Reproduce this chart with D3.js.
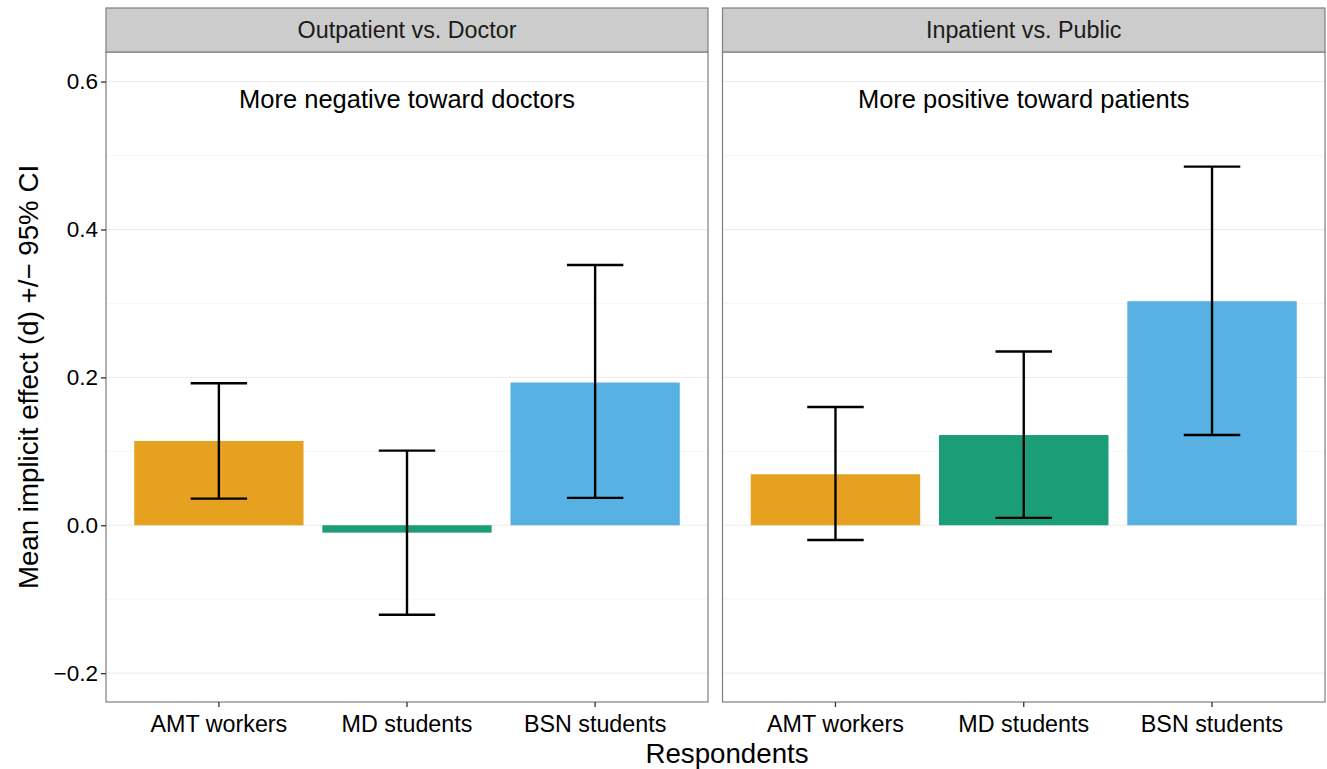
<!DOCTYPE html>
<html>
<head>
<meta charset="utf-8">
<script src="https://cdn.jsdelivr.net/npm/d3@7"></script>
<style>
  html, body { margin: 0; padding: 0; background: #fff; }
  svg { display: block; font-family: "Liberation Sans", Arial, Helvetica, sans-serif; }
</style>
</head>
<body>
<svg id="chart" width="1327" height="769"></svg>
<script>
// Respondent groups and the two comparison facets
const categories = ["AMT workers", "MD students", "BSN students"];
const facets = ["Outpatient vs. Doctor", "Inpatient vs. Public"];
const facetNotes = ["More negative toward doctors", "More positive toward patients"];

// Mean implicit effect (d) and 95% CI per facet, in category order
const outpatientMean = [0.114, -0.010, 0.193];
const outpatientLow  = [0.036, -0.121, 0.037];
const outpatientHigh = [0.192,  0.101, 0.352];

const inpatientMean = [0.069, 0.122, 0.303];
const inpatientLow  = [-0.020, 0.010, 0.122];
const inpatientHigh = [0.160, 0.235, 0.485];

const yTicks = [-0.2, 0.0, 0.2, 0.4, 0.6];
const yMinor = [-0.1, 0.1, 0.3, 0.5];

const colors = ["#E6A121", "#1B9E77", "#57B1E3"];

const seriesByFacet = [
  { mean: outpatientMean, low: outpatientLow, high: outpatientHigh },
  { mean: inpatientMean, low: inpatientLow, high: inpatientHigh }
];

const svg = d3.select("#chart");
const FONT = "'Liberation Sans', Arial, Helvetica, sans-serif";

const panelTop = 52, panelBottom = 702, stripTop = 8;
const panels = [
  { left: 106, right: 708 },
  { left: 722.5, right: 1325 }
];

const y = d3.scaleLinear().domain([-0.239, 0.64]).range([panelBottom, panelTop]);
const color = d3.scaleOrdinal().domain(categories).range(colors);

panels.forEach((p, i) => {
  const data = categories.map((c, k) => ({
    cat: c,
    mean: seriesByFacet[i].mean[k],
    low: seriesByFacet[i].low[k],
    high: seriesByFacet[i].high[k]
  }));

  const x = d3.scaleBand().domain(categories)
    .range([p.left, p.right]).paddingInner(0.1).paddingOuter(0.15);

  const g = svg.append("g");

  // panel background
  g.append("rect")
    .attr("x", p.left).attr("y", panelTop)
    .attr("width", p.right - p.left).attr("height", panelBottom - panelTop)
    .attr("fill", "#fff");

  // minor + major grid
  g.selectAll(".minor").data(yMinor).enter().append("line")
    .attr("x1", p.left).attr("x2", p.right)
    .attr("y1", d => y(d)).attr("y2", d => y(d))
    .attr("stroke", "#f6f6f6").attr("stroke-width", 1);
  g.selectAll(".major").data(yTicks).enter().append("line")
    .attr("x1", p.left).attr("x2", p.right)
    .attr("y1", d => y(d)).attr("y2", d => y(d))
    .attr("stroke", "#ebebeb").attr("stroke-width", 1);

  // bars
  g.selectAll(".bar").data(data).enter().append("rect")
    .attr("x", d => x(d.cat))
    .attr("width", x.bandwidth())
    .attr("y", d => y(Math.max(0, d.mean)))
    .attr("height", d => Math.abs(y(d.mean) - y(0)))
    .attr("fill", d => color(d.cat));

  // error bars
  const cap = x.step() * 0.3 / 2;
  const eb = g.selectAll(".err").data(data).enter().append("g");
  eb.append("line")
    .attr("x1", d => x(d.cat) + x.bandwidth() / 2)
    .attr("x2", d => x(d.cat) + x.bandwidth() / 2)
    .attr("y1", d => y(d.low)).attr("y2", d => y(d.high))
    .attr("stroke", "#000").attr("stroke-width", 2.4);
  ["low", "high"].forEach(key => {
    eb.append("line")
      .attr("x1", d => x(d.cat) + x.bandwidth() / 2 - cap)
      .attr("x2", d => x(d.cat) + x.bandwidth() / 2 + cap)
      .attr("y1", d => y(d[key])).attr("y2", d => y(d[key]))
      .attr("stroke", "#000").attr("stroke-width", 2.4);
  });

  // facet note
  g.append("text")
    .attr("x", x(categories[1]) + x.bandwidth() / 2)
    .attr("y", y(0.576))
    .attr("dy", "0.35em")
    .attr("text-anchor", "middle")
    .attr("font-size", 25.5)
    .attr("fill", "#000")
    .text(facetNotes[i]);

  // panel border
  g.append("rect")
    .attr("x", p.left).attr("y", panelTop)
    .attr("width", p.right - p.left).attr("height", panelBottom - panelTop)
    .attr("fill", "none").attr("stroke", "#7f7f7f").attr("stroke-width", 1.2);

  // strip
  g.append("rect")
    .attr("x", p.left).attr("y", stripTop)
    .attr("width", p.right - p.left).attr("height", panelTop - stripTop)
    .attr("fill", "#cccccc").attr("stroke", "#7f7f7f").attr("stroke-width", 1.2);
  g.append("text")
    .attr("x", (p.left + p.right) / 2)
    .attr("y", (stripTop + panelTop) / 2)
    .attr("dy", "0.35em")
    .attr("text-anchor", "middle")
    .attr("font-size", 23.3)
    .attr("fill", "#1a1a1a")
    .text(facets[i]);

  // x axis
  const xAxis = g.append("g")
    .attr("transform", `translate(0,${panelBottom})`)
    .call(d3.axisBottom(x).tickSize(5).tickPadding(8));
  xAxis.select(".domain").remove();
  xAxis.selectAll(".tick line").attr("stroke", "#333").attr("stroke-width", 1.3);
  xAxis.selectAll(".tick text")
    .attr("font-size", 23.3).attr("fill", "#000")
    .attr("font-family", FONT);

  // y axis on the first panel only
  if (i === 0) {
    const yAxis = g.append("g")
      .attr("transform", `translate(${p.left},0)`)
      .call(d3.axisLeft(y).tickValues(yTicks)
        .tickFormat(d => d3.format(".1f")(d).replace("-", "\u2212"))
        .tickSize(5).tickPadding(3));
    yAxis.select(".domain").remove();
    yAxis.selectAll(".tick line").attr("stroke", "#333").attr("stroke-width", 1.3);
    yAxis.selectAll(".tick text")
      .attr("font-size", 22.5).attr("fill", "#000")
      .attr("font-family", FONT);
  }
});

// axis titles
svg.append("text")
  .attr("x", 727).attr("y", 763)
  .attr("text-anchor", "middle")
  .attr("font-size", 27.7)
  .attr("fill", "#000")
  .text("Respondents");

svg.append("text")
  .attr("transform", `translate(38,${(panelTop + panelBottom) / 2}) rotate(-90)`)
  .attr("text-anchor", "middle")
  .attr("font-size", 27.7)
  .attr("fill", "#000")
  .text("Mean implicit effect (d) +/\u2212 95% CI");
</script>
</body>
</html>
